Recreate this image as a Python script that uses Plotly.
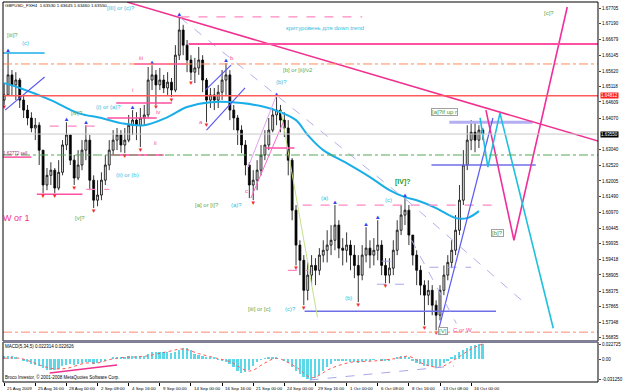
import plotly.graph_objects as go

# ---------------- DATA ----------------
time_labels = ["21 Aug 2009", "25 Aug 16:00", "28 Aug 00:00", "2 Sep 08:00", "4 Sep 16:00",
               "9 Sep 00:00", "14 Sep 00:00", "16 Sep 16:00", "21 Sep 00:00", "24 Sep 00:00",
               "29 Sep 16:00", "1 Oct 00:00", "6 Oct 08:00", "8 Oct 16:00", "13 Oct 08:00",
               "16 Oct 00:00"]
time_label_bars = [0, 8, 16, 24, 32, 40, 48, 56, 64, 72, 80, 88, 96, 104, 112, 120]

opens = [1.6467,1.6484,1.6550,1.6517,1.6533,1.6467,1.6434,1.6408,1.6375,1.6384,
1.6302,1.6187,1.6219,1.6236,1.6177,1.6229,1.6319,1.6352,1.6269,1.6210,
1.6253,1.6302,1.6335,1.6203,1.6137,1.6154,1.6203,1.6253,1.6302,1.6335,
1.6352,1.6319,1.6335,1.6384,1.6401,1.6384,1.6408,1.6418,1.6533,1.6550,
1.6517,1.6533,1.6507,1.6526,1.6500,1.6615,1.6698,1.6648,1.6599,1.6559,
1.6573,1.6599,1.6533,1.6467,1.6484,1.6467,1.6493,1.6533,1.6550,1.6434,
1.6408,1.6368,1.6319,1.6253,1.6187,1.6203,1.6236,1.6286,1.6319,1.6368,
1.6418,1.6434,1.6401,1.6375,1.6269,1.6104,1.5989,1.5939,1.5840,1.5890,
1.5922,1.5906,1.5956,1.5972,1.5989,1.6005,1.6055,1.5979,1.5972,1.5989,
1.5956,1.5922,1.5890,1.5956,1.5979,1.5956,1.5972,1.5989,1.5922,1.5890,
1.5913,1.5972,1.6038,1.6088,1.6104,1.6022,1.5956,1.5906,1.5857,1.5824,
1.5840,1.5791,1.5758,1.5840,1.5890,1.5932,1.5972,1.6038,1.6137,1.6253,
1.6335,1.6361,1.6335,1.6368]

closes = [1.6484,1.6550,1.6517,1.6533,1.6467,1.6434,1.6408,1.6375,1.6384,1.6302,
1.6187,1.6219,1.6236,1.6177,1.6229,1.6319,1.6352,1.6269,1.6210,1.6253,
1.6302,1.6335,1.6203,1.6137,1.6154,1.6203,1.6253,1.6302,1.6335,1.6352,
1.6319,1.6335,1.6384,1.6401,1.6384,1.6408,1.6418,1.6533,1.6550,1.6517,
1.6533,1.6507,1.6526,1.6500,1.6615,1.6698,1.6648,1.6599,1.6559,1.6573,
1.6599,1.6533,1.6467,1.6484,1.6467,1.6493,1.6533,1.6550,1.6434,1.6408,
1.6368,1.6319,1.6253,1.6187,1.6203,1.6236,1.6286,1.6319,1.6368,1.6418,
1.6434,1.6401,1.6375,1.6269,1.6104,1.5989,1.5939,1.5840,1.5890,1.5922,
1.5906,1.5956,1.5972,1.5989,1.6005,1.6055,1.5979,1.5972,1.5989,1.5956,
1.5922,1.5890,1.5956,1.5979,1.5956,1.5972,1.5989,1.5922,1.5890,1.5913,
1.5972,1.6038,1.6088,1.6104,1.6022,1.5956,1.5906,1.5857,1.5824,1.5840,
1.5791,1.5758,1.5840,1.5890,1.5932,1.5972,1.6038,1.6137,1.6253,1.6335,
1.6361,1.6335,1.6368,1.6355]

highs = [1.6523,1.6622,1.6566,1.6559,1.6540,1.6484,1.6451,1.6427,1.6408,1.6394,
1.6302,1.6243,1.6262,1.6243,1.6269,1.6335,1.6394,1.6352,1.6286,1.6302,
1.6335,1.6384,1.6352,1.6219,1.6203,1.6229,1.6286,1.6335,1.6368,1.6375,
1.6368,1.6375,1.6418,1.6434,1.6427,1.6441,1.6451,1.6576,1.6582,1.6566,
1.6573,1.6550,1.6559,1.6540,1.6648,1.6738,1.6715,1.6665,1.6615,1.6606,
1.6642,1.6615,1.6540,1.6507,1.6507,1.6517,1.6566,1.6589,1.6566,1.6451,
1.6418,1.6384,1.6335,1.6262,1.6236,1.6269,1.6319,1.6368,1.6408,1.6441,
1.6477,1.6451,1.6427,1.6401,1.6276,1.6121,1.6005,1.5956,1.5932,1.5956,
1.5946,1.5979,1.6005,1.6038,1.6055,1.6121,1.6071,1.6012,1.6031,1.6005,
1.5989,1.5956,1.5989,1.6048,1.6005,1.6012,1.6071,1.6005,1.5946,1.5946,
1.6005,1.6071,1.6121,1.6144,1.6121,1.6022,1.5972,1.5922,1.5873,1.5873,
1.5857,1.5807,1.5857,1.5922,1.5956,1.6005,1.6088,1.6187,1.6302,1.6384,
1.6401,1.6394,1.6384,1.6375]

lows = [1.6451,1.6484,1.6484,1.6467,1.6441,1.6408,1.6384,1.6361,1.6335,1.6253,
1.6160,1.6170,1.6187,1.6160,1.6170,1.6219,1.6302,1.6253,1.6187,1.6203,
1.6236,1.6269,1.6170,1.6111,1.6117,1.6137,1.6187,1.6236,1.6286,1.6302,
1.6295,1.6292,1.6328,1.6352,1.6335,1.6312,1.6384,1.6408,1.6500,1.6451,
1.6500,1.6490,1.6484,1.6477,1.6493,1.6599,1.6615,1.6559,1.6533,1.6523,
1.6550,1.6493,1.6394,1.6441,1.6434,1.6441,1.6467,1.6484,1.6401,1.6368,
1.6319,1.6292,1.6219,1.6144,1.6137,1.6170,1.6219,1.6269,1.6302,1.6361,
1.6384,1.6361,1.6345,1.6219,1.6071,1.5922,1.5890,1.5791,1.5807,1.5857,
1.5857,1.5890,1.5932,1.5932,1.5956,1.5972,1.5946,1.5922,1.5932,1.5906,
1.5880,1.5801,1.5873,1.5932,1.5913,1.5922,1.5939,1.5890,1.5863,1.5863,
1.5890,1.5956,1.6022,1.6055,1.5989,1.5922,1.5857,1.5824,1.5725,1.5791,
1.5758,1.5708,1.5741,1.5824,1.5873,1.5913,1.5956,1.6022,1.6121,1.6236,
1.6302,1.6295,1.6309,1.6335]

# moving average (read at sample bars)
ma_bars = [0, 4, 12, 19, 25, 30, 36, 42, 47, 53, 61, 67, 71, 75, 78, 82, 88, 94, 99, 103, 106, 111, 116, 119, 122]
ma_vals = [1.6523, 1.6507, 1.6467, 1.6424, 1.6408, 1.6391, 1.6384, 1.6411, 1.6444, 1.6460, 1.6457,
           1.6444, 1.6427, 1.6401, 1.6352, 1.6302, 1.6259, 1.6213, 1.6170, 1.6147, 1.6137, 1.6111,
           1.6078, 1.6078, 1.6101]

macd_hist = [0.004,0.005,0.004,0.002,0.000,-0.003,-0.005,-0.007,-0.009,-0.011,
-0.014,-0.016,-0.017,-0.017,-0.015,-0.011,-0.009,-0.008,-0.009,-0.008,
-0.006,-0.004,-0.005,-0.007,-0.006,-0.004,-0.002,0.000,0.002,0.003,
0.003,0.003,0.004,0.004,0.004,0.004,0.005,0.008,0.010,0.011,
0.011,0.010,0.010,0.009,0.011,0.014,0.017,0.016,0.013,0.008,
0.006,0.004,0.002,0.002,0.002,-0.001,-0.003,-0.004,-0.008,-0.012,
-0.018,-0.021,-0.020,-0.016,-0.010,-0.005,-0.001,0.001,0.002,0.002,
0.002,0.000,-0.002,-0.006,-0.012,-0.018,-0.022,-0.027,-0.030,-0.031,
-0.029,-0.024,-0.018,-0.012,-0.008,-0.003,-0.002,-0.002,-0.003,-0.004,
-0.005,-0.006,-0.004,-0.002,-0.002,-0.001,0.000,-0.002,-0.003,-0.002,
0.000,0.002,0.004,0.005,0.002,-0.003,-0.006,-0.008,-0.011,-0.011,
-0.012,-0.013,-0.010,-0.006,-0.002,0.002,0.006,0.010,0.014,0.017,
0.019,0.021,0.022,0.0223]

signal_bars = [0, 4, 12, 16, 21, 24, 27, 30, 36, 42, 46, 50, 54, 58, 63, 67, 70, 75, 79, 84, 89, 95, 101, 104, 108, 112, 116, 120, 123]
signal_vals = [0.001, 0.001, -0.014, -0.014, -0.006, -0.006, -0.001, 0.002, 0.004, 0.011, 0.015, 0.008,
               0.002, -0.004, -0.018, -0.006, 0.001, -0.012, -0.028, -0.014, -0.005, -0.003, 0.001,
               0.004, -0.008, -0.012, 0.000, 0.015, 0.0226]

price_ticks = [1.67705, 1.67190, 1.66679, 1.66145, 1.65620, 1.65118, 1.64609, 1.64070, 1.63040,
               1.62520, 1.62005, 1.61490, 1.60970, 1.60445, 1.59935, 1.59418, 1.58905, 1.58375,
               1.57865, 1.57348, 1.56835]
macd_ticks = [0.0223, 0.0, -0.0304]
macd_tick_text = ["0.022725", "0.00", "-0.031250"]

current_price = 1.63550
red_level = 1.64812
pink_level = 1.6652
orange_level_top = 1.6586
green_level = 1.6286
orange_level_bottom = 1.5702

up_fractals = [1, 16, 21, 33, 38, 45, 57, 70, 85, 93, 96, 103]
down_fractals = [0, 10, 13, 18, 23, 31, 35, 39, 43, 48, 52, 64, 75, 77, 91, 98, 108, 111]

# short horizontal segments: (start bar, end bar, price)
pink_solid_x0 = [33.4, 28.8, 26.5, 8.4, 27.5, 67.0, -0.5]
pink_solid_x1 = [46.9, 43.1, 39.2, 20.1, 41.0, 74.6, 7.0]
pink_solid_y = [1.6586, 1.6457, 1.6408, 1.6157, 1.6286, 1.6309, 1.6279]
pink_dash_x0 = [11.7, 21.1, 72.9, 45.3, 76.7]
pink_dash_x1 = [25.0, 27.0, 78.0, 92.0, 126.4]
pink_dash_y = [1.6381, 1.6173, 1.5906, 1.6741, 1.6121]
purple_x0 = [77.2, 109.8]
purple_x1 = [126.4, 136.6]
purple_y = [1.5771, 1.6253]
lav_thick_x0 = [114.4]
lav_thick_x1 = [135.8]
lav_thick_y = [1.6394]
lav_dash_x0 = [109.3, 95.8, 97.0]
lav_dash_x1 = [120.0, 103.4, 100.0]
lav_dash_y = [1.5916, 1.5860, 1.5936]
cyan_seg_x0 = [-0.5]
cyan_seg_x1 = [10.4]
cyan_seg_y = [1.6622]

# diagonal lines: [(bar, price), (bar, price)]
pink_trend = [(31.6, 1.6790), (153.1, 1.6330)]
blue_lines = [[(0.25, 1.6434), (10.4, 1.6543)], [(52.0, 1.6368), (61.9, 1.6507)],
              [(51.7, 1.6500), (58.3, 1.6582)], [(111.6, 1.5708), (125.6, 1.6408)]]
lav_diag = [[(45.3, 1.6738), (103.4, 1.6137)], [(103.2, 1.6140), (134.5, 1.5790)],
            [(104.7, 1.6005), (116.2, 1.5731)]]
green_diag = [(71.1, 1.6434), (80.5, 1.5751)]
pink_thin_diag = [(63.4, 1.6144), (71.6, 1.6391)]
violet_thin_diag = [(62.7, 1.6246), (69.8, 1.6477)]
magenta_path = [(123.8, 1.6434), (131.0, 1.6005), (144.7, 1.6774)]
cyan_path = [(122.3, 1.6408), (124.3, 1.6246), (127.4, 1.6424), (141.1, 1.5715)]
macd_pink_line = [(11.7, -0.021), (29.0, -0.009)]
macd_lav_line = [(78.5, -0.0315), (115.6, -0.0105)]

# wave labels
cyan_texts = ["[III] or (c)?", "(c)", "(i) or (a)?", "(b)?", "критуровень для down trend", "(ii) or (b)",
              "(a)?", "(a)", "(c)", "(c)?", "(b)"]
cyan_x = [26.5, 4.6, 23.7, 69.8, 72.4, 28.8, 58.2, 81.3, 97.8, 72.1, 87.6]
cyan_y = [1.6771, 1.6655, 1.6444, 1.6526, 1.6705, 1.6219, 1.6121, 1.6144, 1.6137, 1.5777, 1.5814]
green_texts = ["[iii]?", "[iv]?", "[b] or [ii]/v2", "or [ii]", "[v]?", "[a] or [i]?", "[iii] or [c]", "[c]?"]
green_x = [0.8, 17.3, 71.6, -0.5, 18.1, 49.0, 62.7, 138.6]
green_y = [1.6682, 1.6424, 1.6566, 1.6163, 1.6078, 1.6121, 1.5777, 1.6754]
boxed_texts = ["[V]", "[b]?", "[a]?if up r"]
boxed_x = [111.6, 125.1, 109.8]
boxed_y = [1.5705, 1.6028, 1.6427]
pink_texts = ["iii", "i", "iv", "a", "b", "ii", "c", "C or W"]
pink_x = [34.6, 32.9, 39.0, 50.0, 58.1, 38.5, 62.0, 115.4]
pink_y = [1.6605, 1.6500, 1.6427, 1.6394, 1.6605, 1.6325, 1.6168, 1.5708]

# ---------------- FIGURE ----------------
FONT = "Liberation Sans, Arial, sans-serif"
bar_index = list(range(len(closes)))
fig = go.Figure()


def seg_trace(x0s, x1s, ys, color, width=1, dash="solid", yaxis="y"):
    xs, yy = [], []
    for a, b, c in zip(x0s, x1s, ys):
        xs += [a, b, None]
        yy += [c, c, None]
    fig.add_trace(go.Scatter(x=xs, y=yy, mode="lines", yaxis=yaxis, hoverinfo="skip",
                             line=dict(color=color, width=width, dash=dash)))


def path_trace(pts, color, width=1, dash="solid", yaxis="y"):
    fig.add_trace(go.Scatter(x=[p[0] for p in pts], y=[p[1] for p in pts], mode="lines",
                             yaxis=yaxis, hoverinfo="skip",
                             line=dict(color=color, width=width, dash=dash)))


# candles
fig.add_trace(go.Candlestick(x=bar_index, open=opens, high=highs, low=lows, close=closes,
                             increasing=dict(line=dict(color="black", width=0.8), fillcolor="#E8E8E8"),
                             decreasing=dict(line=dict(color="black", width=0.8), fillcolor="black"),
                             whiskerwidth=0, hoverinfo="skip", yaxis="y"))

# MA
fig.add_trace(go.Scatter(x=ma_bars, y=ma_vals, mode="lines", line=dict(color="#1AAEE8", width=2, shape="spline"),
                         hoverinfo="skip", yaxis="y"))

# segments
seg_trace(pink_solid_x0, pink_solid_x1, pink_solid_y, "#FF4FA0", 1.5)
seg_trace(pink_dash_x0, pink_dash_x1, pink_dash_y, "#FF88C0", 1.2, "dash")
seg_trace(purple_x0, purple_x1, purple_y, "#6F6FE8", 1.3)
seg_trace(lav_thick_x0, lav_thick_x1, lav_thick_y, "#B4AEF2", 3)
seg_trace(lav_dash_x0, lav_dash_x1, lav_dash_y, "#A8A8EE", 1, "dash")
seg_trace(cyan_seg_x0, cyan_seg_x1, cyan_seg_y, "#1AAEE8", 1.5)

# diagonals
path_trace(pink_trend, "#F0308F", 1.5)
for ln in blue_lines:
    path_trace(ln, "#5A5AF0", 1.2)
for ln in lav_diag:
    path_trace(ln, "#B0B0EE", 1, "dash")
path_trace(green_diag, "#C2E08A", 1)
path_trace(pink_thin_diag, "#FF66CC", 1)
path_trace(violet_thin_diag, "#E0A0F0", 1)
path_trace(magenta_path, "#F0309A", 1.6)
path_trace(cyan_path, "#1EC0E0", 1.6)

# fractals
fig.add_trace(go.Scatter(x=up_fractals, y=[highs[i] for i in up_fractals], mode="text",
                         text=["▲"] * len(up_fractals), textposition="top center",
                         textfont=dict(color="#3340F0", size=6, family=FONT), hoverinfo="skip", yaxis="y"))
fig.add_trace(go.Scatter(x=down_fractals, y=[lows[i] for i in down_fractals], mode="text",
                         text=["▼"] * len(down_fractals), textposition="bottom center",
                         textfont=dict(color="#F03030", size=6, family=FONT), hoverinfo="skip", yaxis="y"))

# MACD
fig.add_trace(go.Bar(x=bar_index, y=macd_hist, width=0.45, marker=dict(color="#5CD8E8", line=dict(width=0)),
                     hoverinfo="skip", yaxis="y2"))
fig.add_trace(go.Scatter(x=signal_bars, y=signal_vals, mode="lines",
                         line=dict(color="#FF5A5A", width=1, dash="dot", shape="spline"),
                         hoverinfo="skip", yaxis="y2"))
path_trace(macd_pink_line, "#F0308F", 1.5, yaxis="y2")
path_trace(macd_lav_line, "#A8A8EE", 1, "dash", yaxis="y2")

# full-width level lines
shapes = []
for lvl, col, w, dash in [(current_price, "#C8C8C8", 1, "solid"),
                          (red_level, "#FF5A5A", 1.5, "solid"),
                          (orange_level_top, "#FF8A55", 1, "dashdot"),
                          (green_level, "#55AA55", 1, "dashdot"),
                          (orange_level_bottom, "#FF8A70", 1, "dashdot")]:
    shapes.append(dict(type="line", xref="x domain", x0=0, x1=1, yref="y", y0=lvl, y1=lvl,
                       line=dict(color=col, width=w, dash=dash), layer="above"))
shapes.append(dict(type="line", xref="x", x0=47.4, x1=153, yref="y", y0=pink_level, y1=pink_level,
                   line=dict(color="#FF4FA0", width=2), layer="above"))
# panel frames
main_bot = 41 / 380
macd_top = 40 / 380
shapes.append(dict(type="rect", xref="paper", yref="paper", x0=0, x1=1, y0=main_bot, y1=1,
                   line=dict(color="black", width=1)))
shapes.append(dict(type="rect", xref="paper", yref="paper", x0=0, x1=1, y0=0, y1=macd_top,
                   line=dict(color="black", width=1)))
shapes.append(dict(type="line", xref="paper", yref="paper", x0=0, x1=1, y0=(main_bot + macd_top) / 2,
                   y1=(main_bot + macd_top) / 2, line=dict(color="#8080A0", width=2)))

annotations = []


def lab(text, x, y, color, size=6, xref="x", yref="y", bold=False, bgcolor=None, bordercolor=None,
        xanchor="left", yanchor="middle"):
    annotations.append(dict(text=("<b>%s</b>" % text) if bold else text, x=x, y=y, xref=xref, yref=yref,
                            showarrow=False, xanchor=xanchor, yanchor=yanchor,
                            font=dict(color=color, size=size, family=FONT),
                            bgcolor=bgcolor, bordercolor=bordercolor, borderwidth=1 if bordercolor else 0,
                            borderpad=0))


for t, x, y in zip(cyan_texts, cyan_x, cyan_y):
    lab(t, x, y, "#33BEE0")
for t, x, y in zip(green_texts, green_x, green_y):
    lab(t, x, y, "#66A84A")
for t, x, y in zip(boxed_texts, boxed_x, boxed_y):
    lab(t, x, y, "#3A9A3A", bgcolor="white", bordercolor="#A0A0A0")
for t, x, y in zip(pink_texts, pink_x, pink_y):
    lab(t, x, y, "#F0509A")
lab("[IV]?", 100.4, 1.6197, "#1F9A1F", size=7, bold=True)
lab("W or 1", -0.25, 1.6078, "#F0308F", size=9)
lab("1.62772 sell", -0.25, 1.6292, "#A03070", size=4.5)

# title & panel texts
lab("GBPUSD_FXH4  1.63530 1.63645 1.63460 1.63550", 0.004, 0.997, "black", size=4.4,
    xref="paper", yref="paper", yanchor="top")
lab("MACD(5,34,5) 0.022314 0.022626", 0.004, macd_top - 0.004, "black", size=4.5,
    xref="paper", yref="paper", yanchor="top")
lab("Broco Investor, © 2001-2008 MetaQuotes Software Corp.", 0.004, 0.004, "black", size=4.5,
    xref="paper", yref="paper", yanchor="bottom")

# boxed price labels on axis
annotations.append(dict(text="1.64812", x=1, xref="paper", y=red_level, yref="y", xanchor="left",
                        xshift=2, showarrow=False, bgcolor="#FF2020",
                        font=dict(color="white", size=4.5, family=FONT), borderpad=0))
annotations.append(dict(text="1.63550", x=1, xref="paper", y=current_price, yref="y", xanchor="left",
                        xshift=2, showarrow=False, bgcolor="black",
                        font=dict(color="white", size=4.5, family=FONT), borderpad=0))

# time labels
for b, t in zip(time_label_bars, time_labels):
    annotations.append(dict(text=t, x=b, xref="x", y=-0.004, yref="paper", xanchor="left", yanchor="top",
                            xshift=1, showarrow=False, font=dict(color="black", size=4.4, family=FONT)))

fig.update_layout(
    width=625, height=391, margin=dict(l=3, r=22, t=2, b=9),
    paper_bgcolor="white", plot_bgcolor="white", showlegend=False,
    font=dict(family=FONT, size=5, color="black"),
    xaxis=dict(domain=[0, 1], range=[-0.3, 152.6], anchor="y2", showgrid=False, zeroline=False,
               tickvals=time_label_bars, ticktext=[""] * len(time_label_bars), ticks="outside",
               ticklen=3, tickcolor="black", showline=False, rangeslider=dict(visible=False)),
    yaxis=dict(domain=[main_bot, 1], range=[1.56729, 1.67903], side="right", anchor="x",
               tickvals=price_ticks, ticktext=["%.5f" % v for v in price_ticks], ticks="outside",
               ticklen=2, tickfont=dict(size=4.5), showgrid=False, zeroline=False, showline=False),
    yaxis2=dict(domain=[0, macd_top], range=[-0.0345, 0.0255], side="right", anchor="x",
                tickvals=macd_ticks, ticktext=macd_tick_text, ticks="outside", ticklen=2,
                tickfont=dict(size=4.5), showgrid=False, zeroline=False, showline=False),
    shapes=shapes, annotations=annotations, bargap=0,
)

fig.write_html("out.html")
